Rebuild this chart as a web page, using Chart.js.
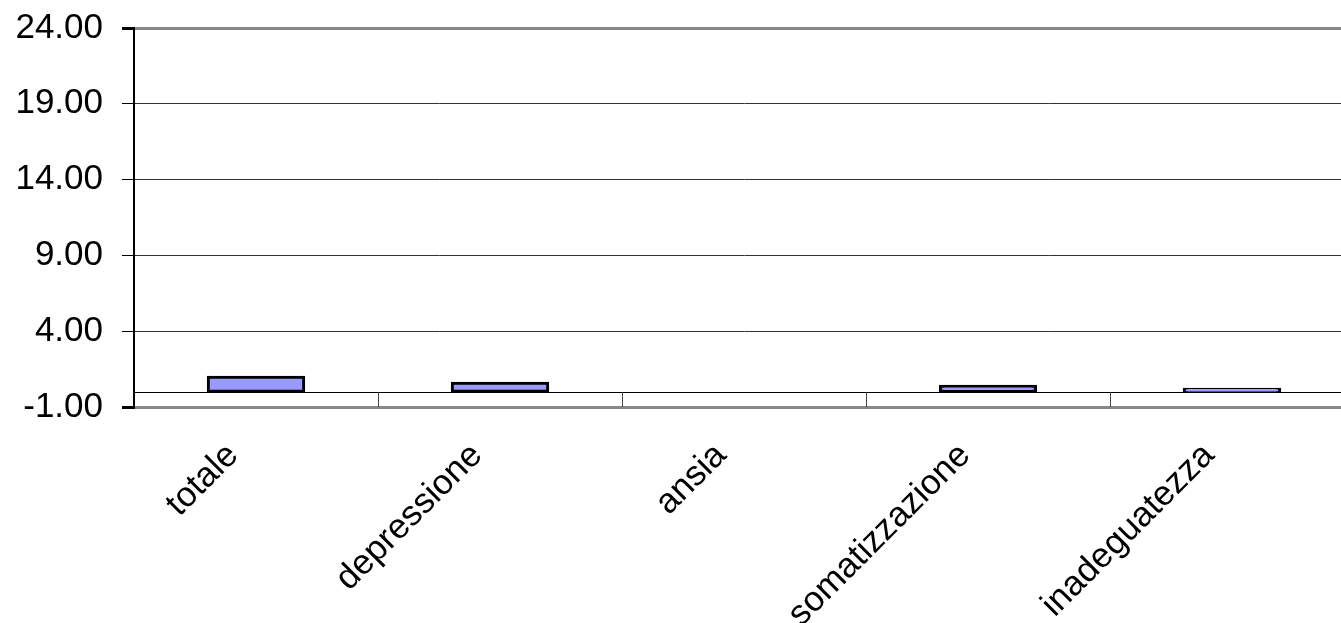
<!DOCTYPE html>
<html>
<head>
<meta charset="utf-8">
<script src="https://cdn.jsdelivr.net/npm/chart.js@4/dist/chart.umd.min.js"></script>
<style>
  html, body { margin: 0; padding: 0; background: #fff; overflow: hidden; }
  #wrap { width: 1370px; height: 623px; }
</style>
</head>
<body>
<div id="wrap"><canvas id="chart"></canvas></div>
<script>
// === DATA ===
const categories = ['totale', 'depressione', 'ansia', 'somatizzazione', 'inadeguatezza'];
const values = [1.0, 0.6, 0, 0.4, 0.2];
const yTicks = [-1, 4, 9, 14, 19, 24];

const FONT = 'Liberation Sans, Arial, sans-serif';

// zero line + category tick marks between zero line and bottom edge
const zeroAxis = {
  id: 'zeroAxis',
  beforeDatasetsDraw(chart) {
    const { ctx, chartArea, scales } = chart;
    const y0 = Math.round(scales.y.getPixelForValue(0)) + 0.5;
    ctx.save();
    ctx.strokeStyle = '#000';
    ctx.lineWidth = 1;
    ctx.beginPath();
    ctx.moveTo(chartArea.left, y0);
    ctx.lineTo(chartArea.right, y0);
    ctx.stroke();
    ctx.strokeStyle = '#444';
    for (let i = 0; i < categories.length - 1; i++) {
      const xb = Math.round((scales.x.getPixelForTick(i) + scales.x.getPixelForTick(i + 1)) / 2) + 0.5;
      ctx.beginPath();
      ctx.moveTo(xb, y0);
      ctx.lineTo(xb, chartArea.bottom);
      ctx.stroke();
    }
    ctx.restore();
  }
};

const ctx = document.getElementById('chart').getContext('2d');
new Chart(ctx, {
  type: 'bar',
  data: {
    labels: categories,
    datasets: [{
      data: values,
      backgroundColor: '#9999FF',
      borderColor: '#000',
      borderWidth: 3,
      inflateAmount: 1,
      borderSkipped: false,
      barPercentage: 0.395,
      categoryPercentage: 1
    }]
  },
  options: {
    responsive: true,
    maintainAspectRatio: false,
    animation: false,
    layout: { padding: { top: 28, right: 16, left: 0, bottom: 0 } },
    plugins: { legend: { display: false }, tooltip: { enabled: false } },
    scales: {
      x: {
        grid: { display: false },
        border: { display: false },
        ticks: {
          color: '#000',
          font: { family: FONT, size: 35 },
          minRotation: 45,
          maxRotation: 45,
          autoSkip: false,
          labelOffset: -23,
          padding: 20
        },
        afterFit(scale) { scale.height = 216; }
      },
      y: {
        min: -1,
        max: 24,
        afterBuildTicks(scale) { scale.ticks = yTicks.map(v => ({ value: v })); },
        border: { display: true, color: '#000', width: 2 },
        grid: {
          color: c => (c.tick && (c.tick.value === 24 || c.tick.value === -1)) ? '#888' : '#333',
          lineWidth: c => (c.tick && (c.tick.value === 24 || c.tick.value === -1)) ? 3 : 1,
          tickColor: '#000',
          tickLength: 12
        },
        ticks: {
          color: '#000',
          font: { family: FONT, size: 35 },
          padding: 19,
          callback: v => Number(v).toFixed(2)
        },
        afterFit(scale) {
          scale.width = 134;
          scale.paddingTop = 0;
          scale.paddingBottom = 0;
        }
      }
    }
  },
  plugins: [zeroAxis]
});
</script>
</body>
</html>
